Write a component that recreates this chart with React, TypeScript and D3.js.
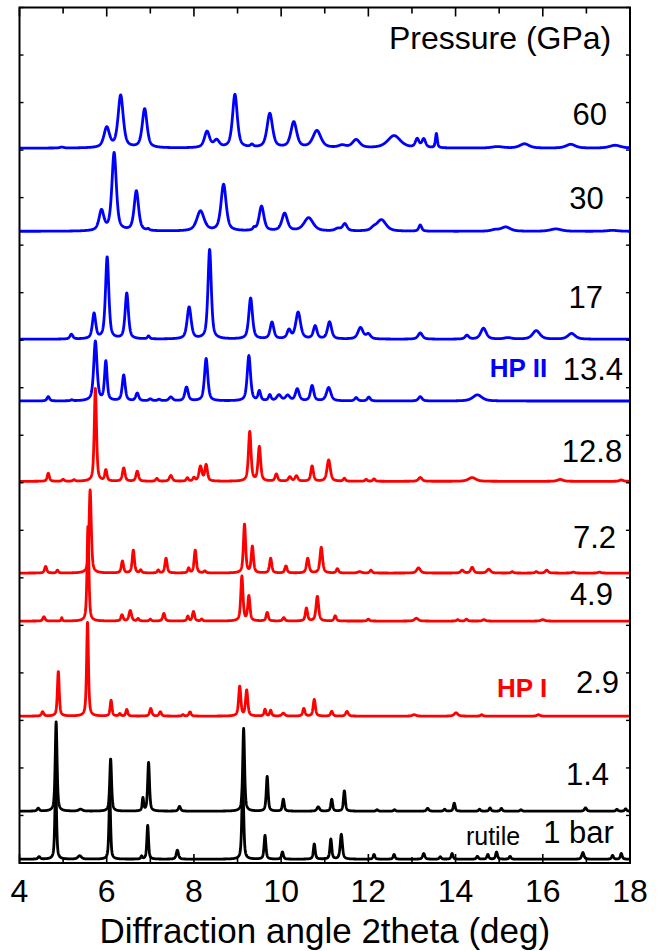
import React from 'react';
import * as d3 from 'd3';

// Stacked XRD patterns: peaks are [2theta, height (tick units), fwhm]
const W = 661;
const H = 951;

const xTicks = d3.range(4, 19, 1);
const xTickLabels = [4, 6, 8, 10, 12, 14, 16, 18];
const yTicks = d3.range(0, 19, 1);

const pressureLabels = ['60', '30', '17', '13.4', '12.8', '7.2', '4.9', '2.9', '1.4', '1 bar'];
const baselines = [15.04, 13.29, 11.02, 9.72, 8.03, 6.1, 5.09, 3.09, 1.09, 0.08];
const colors = ['#0000ff', '#0000ff', '#0000ff', '#0000ff', '#ff0000', '#ff0000', '#ff0000', '#ff0000', '#000000', '#000000'];

const peaks60 = [
  [4.97, 0.02, 0.1], [6.0, 0.42, 0.15], [6.32, 1.1, 0.14], [6.87, 0.82, 0.13],
  [8.3, 0.34, 0.14], [8.52, 0.15, 0.15], [8.94, 1.12, 0.13], [9.33, 0.05, 0.08],
  [9.74, 0.72, 0.15], [10.29, 0.54, 0.16], [10.82, 0.36, 0.22], [11.4, 0.05, 0.2],
  [11.72, 0.17, 0.2], [12.59, 0.26, 0.35], [13.12, 0.18, 0.1], [13.27, 0.18, 0.1],
  [13.56, 0.3, 0.05], [14.96, 0.03, 0.3], [15.58, 0.09, 0.25], [16.64, 0.08, 0.25],
  [17.66, 0.06, 0.3],
];
const peaks30 = [
  [5.88, 0.42, 0.13], [6.17, 1.64, 0.12], [6.68, 0.84, 0.12], [6.95, 0.03, 0.06],
  [8.15, 0.42, 0.2], [8.68, 0.98, 0.14], [9.38, 0.05, 0.06], [9.55, 0.52, 0.13],
  [10.08, 0.37, 0.15], [10.63, 0.28, 0.25], [11.3, 0.05, 0.15], [11.46, 0.15, 0.12],
  [12.12, 0.05, 0.15], [12.3, 0.24, 0.25], [13.19, 0.13, 0.08], [14.9, 0.03, 0.2],
  [15.15, 0.09, 0.25], [16.3, 0.05, 0.3], [17.6, 0.02, 0.3],
];
const peaks17 = [
  [5.19, 0.1, 0.08], [5.71, 0.53, 0.09], [6.01, 1.72, 0.09], [6.46, 0.96, 0.09],
  [6.96, 0.06, 0.06], [7.89, 0.67, 0.11], [8.36, 1.88, 0.09], [9.3, 0.86, 0.1],
  [9.79, 0.35, 0.1], [10.18, 0.18, 0.1], [10.39, 0.56, 0.13], [10.78, 0.27, 0.1],
  [11.11, 0.36, 0.11], [11.82, 0.24, 0.14], [12.0, 0.1, 0.12], [13.19, 0.13, 0.12],
  [14.26, 0.08, 0.1], [14.64, 0.23, 0.15], [15.2, 0.03, 0.2], [15.85, 0.18, 0.2],
  [16.66, 0.12, 0.2],
];
const peaks134 = [
  [4.66, 0.09, 0.07], [5.2, 0.02, 0.06], [5.74, 1.25, 0.09], [5.98, 0.82, 0.07],
  [6.39, 0.54, 0.08], [6.7, 0.16, 0.08], [7.0, 0.04, 0.08], [7.2, 0.03, 0.08],
  [7.47, 0.08, 0.1], [7.83, 0.29, 0.09], [8.28, 0.89, 0.09], [9.26, 0.95, 0.09],
  [9.5, 0.2, 0.07], [9.74, 0.12, 0.07], [9.95, 0.12, 0.12], [10.15, 0.11, 0.12],
  [10.37, 0.25, 0.1], [10.71, 0.32, 0.09], [11.09, 0.28, 0.12], [11.72, 0.07, 0.08],
  [12.01, 0.08, 0.08], [13.19, 0.09, 0.1], [14.5, 0.13, 0.25],
];
const peaks128 = [
  [4.66, 0.17, 0.06], [5.0, 0.04, 0.06], [5.25, 0.03, 0.06], [5.74, 1.95, 0.06],
  [5.98, 0.23, 0.06], [6.39, 0.28, 0.07], [6.7, 0.21, 0.07], [7.15, 0.06, 0.06],
  [7.47, 0.12, 0.08], [7.85, 0.07, 0.06], [8.0, 0.07, 0.06], [8.15, 0.31, 0.08],
  [8.28, 0.34, 0.07], [9.28, 1.04, 0.07], [9.5, 0.72, 0.07], [9.89, 0.15, 0.07],
  [10.2, 0.09, 0.08], [10.35, 0.11, 0.08], [10.71, 0.32, 0.07], [11.09, 0.45, 0.09],
  [11.45, 0.06, 0.06], [11.95, 0.04, 0.06], [12.13, 0.05, 0.06], [13.19, 0.08, 0.1],
  [14.38, 0.08, 0.2], [16.4, 0.04, 0.15], [17.8, 0.03, 0.1],
];
const peaks72 = [
  [4.6, 0.14, 0.06], [4.87, 0.06, 0.05], [5.62, 1.75, 0.06], [6.36, 0.25, 0.06],
  [6.61, 0.48, 0.06], [6.78, 0.06, 0.05], [7.18, 0.06, 0.05], [7.36, 0.31, 0.06],
  [7.88, 0.1, 0.05], [8.03, 0.48, 0.06], [8.25, 0.04, 0.06], [9.16, 1.02, 0.06],
  [9.34, 0.55, 0.06], [9.76, 0.31, 0.06], [10.11, 0.15, 0.06], [10.61, 0.31, 0.07],
  [10.92, 0.54, 0.07], [11.29, 0.09, 0.06], [11.8, 0.03, 0.1], [12.06, 0.06, 0.06],
  [13.15, 0.11, 0.1], [14.15, 0.06, 0.08], [14.38, 0.12, 0.08], [14.76, 0.08, 0.1],
  [15.3, 0.03, 0.06], [15.85, 0.03, 0.06], [16.09, 0.06, 0.08], [16.7, 0.02, 0.08],
  [17.3, 0.02, 0.08],
];
const peaks49 = [
  [4.56, 0.09, 0.06], [4.97, 0.07, 0.03], [5.57, 2.0, 0.05], [6.35, 0.13, 0.06],
  [6.54, 0.22, 0.07], [6.72, 0.05, 0.05], [7.0, 0.04, 0.05], [7.31, 0.16, 0.06],
  [7.86, 0.1, 0.05], [7.99, 0.2, 0.06], [8.18, 0.04, 0.05], [9.1, 0.94, 0.06],
  [9.26, 0.52, 0.06], [9.68, 0.18, 0.06], [10.06, 0.07, 0.06], [10.58, 0.27, 0.06],
  [10.83, 0.52, 0.07], [11.24, 0.11, 0.06], [12.0, 0.04, 0.06], [13.1, 0.06, 0.1],
  [14.05, 0.03, 0.06], [14.25, 0.04, 0.06], [14.65, 0.03, 0.08], [16.0, 0.03, 0.1],
];
const peaks29 = [
  [4.53, 0.09, 0.06], [4.89, 0.94, 0.05], [5.56, 1.97, 0.05], [6.1, 0.33, 0.05],
  [6.3, 0.05, 0.05], [6.46, 0.14, 0.05], [7.01, 0.16, 0.06], [7.23, 0.09, 0.06],
  [7.75, 0.03, 0.05], [7.91, 0.09, 0.06], [9.05, 0.62, 0.06], [9.21, 0.54, 0.06],
  [9.63, 0.14, 0.05], [9.76, 0.12, 0.05], [10.05, 0.06, 0.08], [10.52, 0.16, 0.06],
  [10.76, 0.35, 0.06], [11.16, 0.1, 0.06], [11.51, 0.1, 0.07], [13.05, 0.03, 0.1],
  [14.01, 0.07, 0.1], [14.6, 0.03, 0.06], [15.9, 0.03, 0.08],
];
const peaks14 = [
  [4.43, 0.06, 0.06], [4.84, 1.88, 0.05], [5.4, 0.04, 0.1], [6.09, 1.1, 0.05],
  [6.83, 0.27, 0.04], [6.96, 1.02, 0.05], [7.67, 0.1, 0.06], [9.14, 1.74, 0.05],
  [9.68, 0.73, 0.05], [10.05, 0.25, 0.05], [10.85, 0.09, 0.07], [11.16, 0.25, 0.05],
  [11.45, 0.43, 0.05], [12.2, 0.03, 0.05], [12.6, 0.03, 0.05], [13.36, 0.06, 0.06],
  [13.75, 0.04, 0.05], [13.97, 0.17, 0.05], [14.55, 0.04, 0.05], [14.79, 0.07, 0.05],
  [15.05, 0.06, 0.05], [15.5, 0.03, 0.05], [16.98, 0.07, 0.06], [17.7, 0.04, 0.05],
  [17.9, 0.05, 0.05],
];
const peaks1bar = [
  [4.45, 0.05, 0.06], [4.83, 1.65, 0.045], [5.38, 0.07, 0.1], [6.07, 1.35, 0.045],
  [6.8, 0.06, 0.04], [6.94, 0.71, 0.045], [7.62, 0.19, 0.06], [9.12, 1.65, 0.05],
  [9.63, 0.5, 0.05], [10.03, 0.15, 0.05], [10.76, 0.32, 0.05], [11.14, 0.42, 0.05],
  [11.38, 0.52, 0.06], [12.13, 0.1, 0.05], [12.59, 0.1, 0.05], [13.27, 0.12, 0.06],
  [13.65, 0.05, 0.05], [13.92, 0.12, 0.05], [14.5, 0.06, 0.05], [14.74, 0.1, 0.05],
  [14.94, 0.15, 0.05], [15.25, 0.06, 0.05], [16.92, 0.14, 0.06], [17.6, 0.08, 0.05],
  [17.8, 0.12, 0.05],
];

const peakSets = [peaks60, peaks30, peaks17, peaks134, peaks128, peaks72, peaks49, peaks29, peaks14, peaks1bar];

// label anchor (right end x in deg, baseline y in tick units)
const labelX = [17.47, 17.4, 17.38, 17.84, 17.82, 17.68, 17.61, 17.75, 17.52, 17.63];
const labelY = [15.52, 13.77, 11.67, 10.16, 8.43, 6.62, 5.43, 3.58, 1.64, 0.42];

const margin = { left: 19.5, right: 31, top: 7.5, bottom: 88 };
const x = d3.scaleLinear().domain([4, 18]).range([margin.left, W - margin.right]);
const y = d3.scaleLinear().domain([0, 18]).range([H - margin.bottom, margin.top]);

const grid = d3.range(4, 18.0001, 0.004);

function profile(peaks: number[][], t: number) {
  let s = 0;
  for (const [p, h, w] of peaks) {
    const u = (t - p) / (w / 2);
    const u2 = u * u;
    s += h * (0.6 / (1 + u2) + 0.4 * Math.exp(-Math.LN2 * u2));
  }
  return s;
}

const font = "'Liberation Sans', Arial, Helvetica, sans-serif";

export default function App() {
  const x0 = x.range()[0];
  const x1 = x.range()[1];
  const yTop = y.range()[1];
  const yBot = y.range()[0];

  return (
    <svg
      width={W}
      height={H}
      style={{ position: 'absolute', left: 0, top: 0, background: '#fff' }}
      fontFamily={font}
    >
      <rect x={0} y={0} width={W} height={H} fill="#fff" />

      {peakSets.map((peaks, i) => {
        const line = d3
          .line<number>()
          .x((t) => x(t))
          .y((t) => y(baselines[i] + profile(peaks, t)));
        return (
          <path
            key={i}
            d={line(grid) || ''}
            fill="none"
            stroke={colors[i]}
            strokeWidth={2.8}
            strokeLinejoin="round"
          />
        );
      })}

      {/* frame */}
      <rect x={x0} y={yTop} width={x1 - x0} height={yBot - yTop} fill="none" stroke="#000" strokeWidth={2} />

      {/* x ticks, bottom and top, inward */}
      {xTicks.map((t) => {
        const len = t % 2 === 0 ? 9 : 6;
        return (
          <g key={t}>
            <line x1={x(t)} x2={x(t)} y1={yBot} y2={yBot - len} stroke="#000" strokeWidth={1.6} />
            <line x1={x(t)} x2={x(t)} y1={yTop} y2={yTop + len} stroke="#000" strokeWidth={1.6} />
          </g>
        );
      })}

      {/* y ticks, left and right */}
      {yTicks.map((t) => (
        <g key={t}>
          <line x1={x0} x2={x0 + 4} y1={y(t)} y2={y(t)} stroke="#000" strokeWidth={1.4} />
          <line x1={x1} x2={x1 - 4} y1={y(t)} y2={y(t)} stroke="#000" strokeWidth={1.4} />
        </g>
      ))}

      {xTickLabels.map((t) => (
        <text key={t} x={x(t)} y={yBot + 39} textAnchor="middle" fontSize={32} fill="#000">
          {t}
        </text>
      ))}

      <text x={(x0 + x1) / 2} y={943} textAnchor="middle" fontSize={35} fill="#000">
        Diffraction angle 2theta (deg)
      </text>

      <text x={x(17.57)} y={y(17.12)} textAnchor="end" fontSize={32} fill="#000">
        Pressure (GPa)
      </text>

      {pressureLabels.map((lab, i) => (
        <text key={lab} x={x(labelX[i])} y={y(labelY[i])} textAnchor="end" fontSize={31} fill="#000">
          {lab}
        </text>
      ))}

      <text x={x(16.1)} y={y(10.22)} textAnchor="end" fontSize={26} fontWeight="bold" fill="#0000ff">
        HP II
      </text>
      <text x={x(16.1)} y={y(3.49)} textAnchor="end" fontSize={26} fontWeight="bold" fill="#ff0000">
        HP I
      </text>
      <text x={x(15.48)} y={y(0.38)} textAnchor="end" fontSize={25} fill="#000">
        rutile
      </text>
    </svg>
  );
}
